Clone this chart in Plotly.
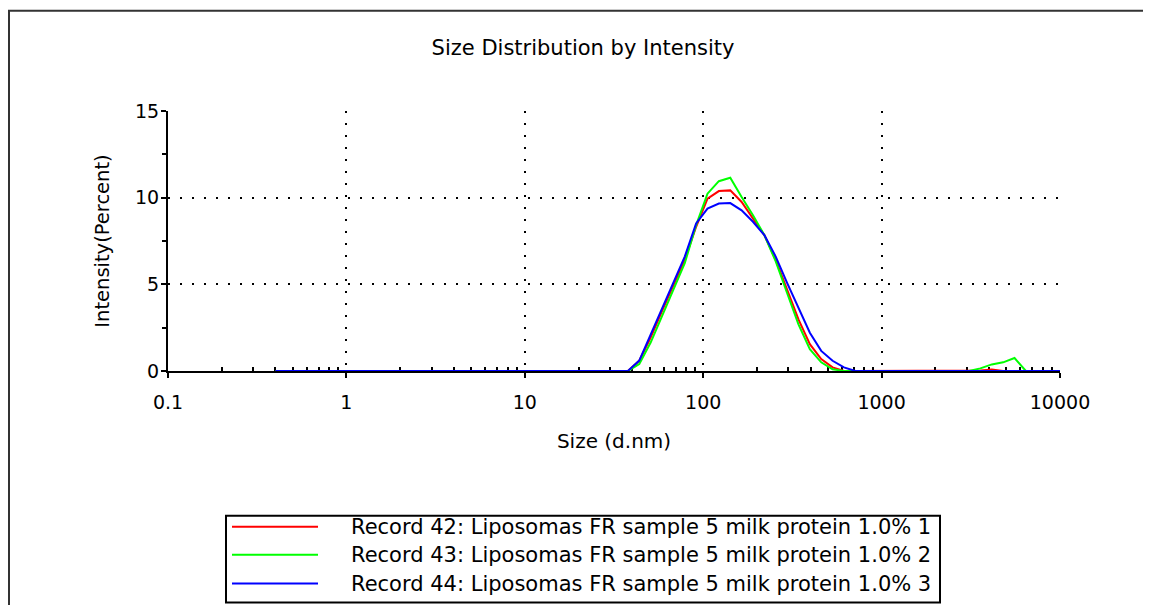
import plotly.graph_objects as go

# Malvern size classes (d.nm)
sizes = [0.4, 0.4632, 0.5365, 0.6213, 0.7195, 0.8332, 0.9649, 1.117, 1.294, 1.499,
         1.736, 2.01, 2.328, 2.696, 3.122, 3.615, 4.187, 4.849, 5.615, 6.503,
         7.531, 8.721, 10.1, 11.7, 13.54, 15.69, 18.17, 21.04, 24.36, 28.21,
         32.67, 37.84, 43.82, 50.75, 58.77, 68.06, 78.82, 91.28, 105.7, 122.4,
         141.8, 164.2, 190.1, 220.2, 255.0, 295.3, 342.0, 396.1, 458.7, 531.2,
         615.1, 712.4, 825.0, 955.4, 1106, 1281, 1484, 1718, 1990, 2305,
         2669, 3091, 3580, 4145, 4801, 5560, 6439, 7456, 8635, 10000]

# Intensity (%) for each size class, from 43.82 nm to 712.4 nm; zero elsewhere
rec42_peak = [0.59, 1.93, 3.45, 4.89, 6.41, 8.32, 9.94, 10.38, 10.42, 9.75, 8.80,
              7.84, 6.41, 4.69, 2.98, 1.55, 0.69, 0.21, 0.0, 0.0]
rec43_peak = [0.40, 1.64, 3.17, 4.69, 6.22, 8.42, 10.23, 10.95, 11.15, 10.04, 8.99,
              7.84, 6.32, 4.50, 2.69, 1.26, 0.50, 0.10, 0.0, 0.0]
rec44_peak = [0.60, 2.12, 3.65, 5.08, 6.60, 8.51, 9.37, 9.66, 9.69, 9.27, 8.61,
              7.84, 6.60, 5.08, 3.65, 2.21, 1.16, 0.59, 0.21, 0.0]
# Large-size tail, from 3091 nm to 7456 nm
rec42_tail = [0.0, 0.03, 0.08, 0.0, 0.0, 0.0, 0.0]
rec43_tail = [0.0, 0.15, 0.38, 0.50, 0.75, 0.0, 0.0]
rec44_tail = [0.0, 0.0, 0.0, 0.0, 0.0, 0.0, 0.0]

names = ["Record 42: Liposomas FR sample 5 milk protein 1.0% 1",
         "Record 43: Liposomas FR sample 5 milk protein 1.0% 2",
         "Record 44: Liposomas FR sample 5 milk protein 1.0% 3"]
colors = ["#FF0000", "#00FF00", "#0000FF"]

title_text = "Size Distribution by Intensity"
x_title = "Size (d.nm)"
y_title = "Intensity(Percent)"
x_tickvals = [0.1, 1, 10, 100, 1000, 10000]
x_ticktext = ["0.1", "1", "10", "100", "1000", "10000"]
y_tickvals = [0, 5, 10, 15]
x_minor_mult = [2, 3, 4, 5, 6, 7, 8, 9]


def full_series(peak, tail):
    i0 = sizes.index(43.82)
    j0 = sizes.index(3091)
    vals = [0.0] * len(sizes)
    for k, v in enumerate(peak):
        vals[i0 + k] = v
    for k, v in enumerate(tail):
        vals[j0 + k] = v
    return vals


series = [full_series(rec42_peak, rec42_tail),
          full_series(rec43_peak, rec43_tail),
          full_series(rec44_peak, rec44_tail)]

OFF = 8  # page body margin
W, H = 1151, 605
# screen-space plot area
SX0, SX1, SY0, SY1 = 168, 1060, 110.5, 371
L, T = SX0 - OFF, SY0 - OFF
R = W - (SX1 - OFF)
B = H - (SY1 - OFF)
PW = SX1 - SX0
PH = SY1 - SY0


def px(x):
    return (x - SX0) / PW


def py(y):
    return (SY1 - y) / PH


FONT = "DejaVu Sans, Verdana, sans-serif"

fig = go.Figure()
for name, vals, col in zip(names, series, colors):
    fig.add_trace(go.Scatter(x=sizes, y=vals, mode="lines", name=name,
                             line=dict(color=col, width=2), showlegend=False))

fig.update_layout(
    width=W, height=H,
    margin=dict(l=L, r=R, t=T, b=B, autoexpand=False),
    paper_bgcolor="white", plot_bgcolor="white",
    font=dict(family=FONT, color="black", size=19),
    title=dict(text=title_text, x=(583 - OFF) / W, xanchor="center",
               y=1 - (48 - OFF) / H, yanchor="middle",
               font=dict(size=21, family=FONT, color="black")),
)

minor_x = [m * 10 ** e for e in range(-1, 4) for m in x_minor_mult]

fig.update_xaxes(
    type="log", range=[-1, 4], tickvals=x_tickvals, ticktext=x_ticktext,
    showline=True, linecolor="black", linewidth=2, mirror=False,
    ticks="outside", ticklen=5, tickwidth=2, tickcolor="black",
    ticklabelstandoff=8,
    showgrid=True, gridcolor="black", gridwidth=2, griddash="2px,10px",
    minor=dict(tickmode="array", tickvals=minor_x, ticks="inside", ticklen=4,
               tickwidth=2, tickcolor="black", showgrid=False),
    tickfont=dict(size=19, family=FONT, color="black"),
    title=dict(text=x_title, standoff=22, font=dict(size=20, family=FONT, color="black")),
    layer="below traces", zeroline=False,
)
fig.update_yaxes(
    range=[0, 15], tickvals=y_tickvals,
    showline=True, linecolor="black", linewidth=2,
    ticks="outside", ticklen=5, tickwidth=2, tickcolor="black",
    ticklabelstandoff=-2,
    showgrid=True, gridcolor="black", gridwidth=2, griddash="2px,10px",
    minor=dict(dtick=2.5, tick0=0, ticks="outside", ticklen=4, tickwidth=2,
               tickcolor="black", showgrid=False),
    tickfont=dict(size=19, family=FONT, color="black"),
    title=dict(text=y_title, standoff=20, font=dict(size=19.5, family=FONT, color="black")),
    layer="below traces", zeroline=False,
)

# Outer frame
fig.add_shape(type="rect", xref="paper", yref="paper",
              x0=px(9), x1=px(W + 20), y0=py(H + 20), y1=py(10),
              line=dict(color="#333333", width=2), fillcolor="rgba(0,0,0,0)", layer="below")

# Legend box
fig.add_shape(type="rect", xref="paper", yref="paper",
              x0=px(226), x1=px(940), y0=py(603), y1=py(516),
              line=dict(color="black", width=2), fillcolor="white")
row_y = [527, 555, 584]
for name, col, ry in zip(names, colors, row_y):
    fig.add_shape(type="line", xref="paper", yref="paper",
                  x0=px(232), x1=px(318), y0=py(ry), y1=py(ry),
                  line=dict(color=col, width=2))
    fig.add_annotation(xref="paper", yref="paper", x=px(349), y=py(ry),
                       xanchor="left", yanchor="middle", text=name, showarrow=False,
                       font=dict(size=21, family=FONT, color="black"))

fig.write_html("out.html")
